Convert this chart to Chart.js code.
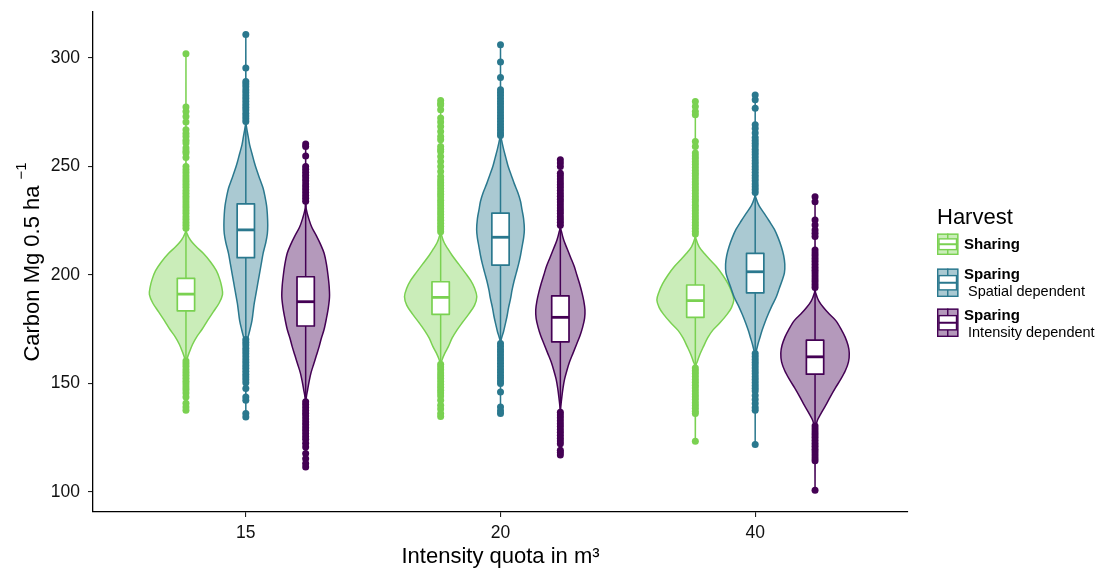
<!DOCTYPE html>
<html>
<head>
<meta charset="utf-8">
<script src="https://cdn.jsdelivr.net/npm/chart.js@4.4.1/dist/chart.umd.min.js"></script>
<style>
  html, body { margin: 0; padding: 0; background: #ffffff; }
  canvas { display: block; }
</style>
</head>
<body>
<canvas id="chart" width="1099" height="573"></canvas>
<script>
// ---- data -------------------------------------------------------------
const xTickLabels = ['15', '20', '40'];
const yTickValues = [100, 150, 200, 250, 300];
const harvestGroups = ['Sharing', 'Sparing', 'Sparing'];
const harvestDetails = ['', 'Spatial dependent', 'Intensity dependent'];
const harvestColors = ['#7AD151', '#2A788E', '#440154'];

// box statistics per quota (15, 20, 40): [lower whisker, Q1, median, Q3, upper whisker]
const sharingBoxes   = [[161, 183.5, 191.2, 198.5, 221], [159.5, 181.9, 189.7, 196.9, 219.4], [158, 180.5, 188.2, 195.4, 217.7]];
const spatialBoxes   = [[171, 208, 220.8, 232.8, 270], [169, 204.6, 217.4, 228.5, 264], [164.5, 191.8, 201.5, 210, 237]];
const intensityBoxes = [[142.5, 176.5, 187.7, 199.2, 233], [137.5, 169.2, 180.5, 190.4, 222], [131, 154.3, 162.3, 170, 193.5]];

// kernel density profiles per quota: [carbon value, relative density]
const sharingViolins = [
  [[302, 0], [222, 0.005], [219, 0.03], [216, 0.12], [213, 0.27], [210, 0.45], [206, 0.64], [202, 0.79], [198, 0.88], [194.5, 0.93], [191, 0.95], [187, 0.86], [183, 0.71], [179, 0.56], [175, 0.42], [171.5, 0.28], [168, 0.17], [164.5, 0.09], [162, 0.04], [159, 0.01], [137.7, 0]],
  [[280.4, 0], [221, 0.005], [218, 0.03], [215, 0.09], [212, 0.19], [209, 0.3], [205, 0.47], [201, 0.64], [197.5, 0.78], [194, 0.88], [190, 0.94], [186, 0.88], [182, 0.73], [178, 0.56], [174.5, 0.42], [171, 0.3], [167, 0.2], [164, 0.11], [161, 0.04], [158, 0.01], [134, 0]],
  [[280, 0], [219, 0.005], [216, 0.03], [213, 0.1], [210, 0.23], [207, 0.38], [204, 0.54], [200, 0.71], [196, 0.85], [192, 0.95], [188.5, 1.0], [185, 0.94], [182, 0.83], [178, 0.64], [174.5, 0.45], [171, 0.32], [167, 0.21], [163.5, 0.12], [160, 0.05], [157, 0.01], [123.4, 0]]
];
const spatialViolins = [
  [[310.8, 0], [272, 0.005], [268, 0.02], [264, 0.06], [260, 0.1], [256, 0.16], [252, 0.22], [248, 0.29], [244, 0.37], [240, 0.45], [236, 0.5], [232, 0.54], [228, 0.56], [223, 0.57], [219, 0.56], [215, 0.52], [210, 0.45], [205, 0.4], [200, 0.35], [196, 0.31], [192, 0.27], [187, 0.22], [183, 0.19], [179, 0.16], [175, 0.11], [171.5, 0.06], [169, 0.02], [166, 0.005], [134.6, 0]],
  [[306.1, 0], [266, 0.005], [262, 0.03], [258, 0.08], [254, 0.14], [250, 0.2], [246, 0.28], [242, 0.36], [238, 0.45], [234, 0.52], [230, 0.56], [226, 0.6], [221, 0.62], [217, 0.6], [213, 0.56], [209, 0.52], [205, 0.47], [201, 0.41], [197, 0.35], [193, 0.3], [189, 0.26], [185, 0.21], [181, 0.17], [177, 0.12], [174, 0.08], [171, 0.03], [168, 0.005], [136.2, 0]],
  [[283, 0], [238, 0.005], [235, 0.03], [232, 0.1], [228.5, 0.23], [225, 0.36], [221, 0.5], [217, 0.6], [213, 0.68], [209, 0.74], [205, 0.77], [201, 0.76], [197.5, 0.7], [194, 0.63], [190, 0.55], [186, 0.44], [182, 0.34], [178, 0.25], [174.5, 0.18], [171, 0.12], [168, 0.07], [165, 0.03], [162, 0.005], [121.9, 0]]
];
const intensityViolins = [
  [[260.4, 0], [234, 0.005], [230, 0.02], [226, 0.08], [222, 0.16], [218, 0.28], [214, 0.39], [210, 0.48], [205, 0.54], [200, 0.58], [195, 0.61], [190, 0.62], [185, 0.59], [180, 0.54], [175, 0.48], [171, 0.41], [167, 0.35], [163, 0.28], [159, 0.21], [155, 0.14], [151, 0.09], [147, 0.05], [144, 0.02], [141, 0.005], [111.5, 0]],
  [[253.1, 0], [223, 0.005], [220, 0.03], [216, 0.09], [212, 0.18], [208, 0.27], [204, 0.36], [200, 0.43], [196, 0.5], [192, 0.56], [188, 0.61], [184, 0.64], [180, 0.63], [176, 0.58], [172, 0.51], [168, 0.42], [164, 0.33], [160, 0.24], [156, 0.17], [152, 0.11], [148, 0.07], [144, 0.04], [140, 0.015], [137, 0.005], [117.1, 0]],
  [[236.1, 0], [194, 0.005], [191, 0.03], [188, 0.1], [185, 0.22], [182, 0.37], [179, 0.54], [175, 0.68], [171.5, 0.78], [167.5, 0.86], [164, 0.89], [160, 0.87], [156, 0.79], [152, 0.67], [148, 0.53], [144, 0.4], [140, 0.28], [136, 0.15], [133, 0.06], [130, 0.02], [127, 0.005], [100.8, 0]]
];

// outlying observations per quota
const sharingOutliers = [
  [302, 277.4, 275.3, 273.1, 270.5, 266.9, 265.2, 263.8, 262.1, 260.8, 258.5, 257.2, 256.2, 254.1, 250.0, 248.5, 247.1, 245.6, 244.3, 243.0, 241.7, 240.4, 239.0, 237.7, 236.3, 235.0, 233.6, 232.3, 231.0, 229.6, 228.3, 226.9, 225.6, 224.2, 222.9, 221.6,
   160.4, 159.1, 157.8, 156.4, 155.1, 153.8, 152.4, 151.1, 149.8, 148.4, 147.1, 145.6, 143.8, 140.9, 139.2, 137.7],
  [280.4, 279.0, 278.4, 276.1, 272.3, 270.5, 268.4, 266.1, 263.8, 262.3, 259.2, 257.8, 256.9, 254.6, 252.3, 250.0, 247.7, 245.4, 243.8, 242.5, 241.2, 239.9, 238.5, 237.2, 235.9, 234.5, 233.2, 231.9, 230.5, 229.2, 227.9, 226.5, 225.2, 223.9, 222.5, 221.2, 219.9,
   158.9, 157.6, 156.3, 154.9, 153.6, 152.3, 150.9, 149.6, 148.3, 146.9, 145.6, 144.2, 142.3, 140.0, 138.3, 136.2, 134.8],
  [280.0, 277.7, 275.4, 273.8, 261.5, 259.2, 256.2, 254.9, 253.6, 252.2, 250.9, 249.6, 248.2, 246.9, 245.6, 244.2, 242.9, 241.6, 240.2, 238.9, 237.6, 236.2, 234.9, 233.6, 232.2, 230.9, 229.6, 228.2, 226.9, 225.6, 224.2, 222.9, 221.6, 220.2, 218.9,
   157.2, 155.9, 154.6, 153.2, 151.9, 150.6, 149.2, 147.9, 146.6, 145.2, 143.9, 142.6, 141.2, 139.9, 138.6, 137.2, 136.2, 123.4]
];
const spatialOutliers = [
  [310.8, 295.4, 289.2, 288.0, 286.7, 285.3, 284.0, 282.6, 281.3, 280.0, 278.6, 277.3, 276.0, 274.6, 273.3, 272.0, 270.7,
   170.3, 169.0, 167.7, 166.3, 165.0, 163.7, 162.3, 161.0, 159.7, 158.3, 157.0, 155.7, 154.3, 153.0, 151.7, 150.4, 147.7, 143.8, 142.3, 136.2, 134.6],
  [306.1, 298.2, 291.0, 285.4, 284.1, 282.8, 281.4, 280.1, 278.8, 277.4, 276.1, 274.8, 273.4, 272.1, 270.8, 269.4, 268.1, 266.8, 265.4, 264.3,
   168.5, 167.2, 165.8, 164.5, 163.2, 161.8, 160.5, 159.2, 157.8, 156.5, 155.2, 153.8, 152.5, 151.2, 150.0, 146.1, 139.2, 137.5, 136.2],
  [283.0, 280.8, 276.9, 269.2, 267.5, 265.4, 263.4, 262.0, 260.7, 259.4, 258.0, 256.7, 255.4, 254.0, 252.7, 251.4, 250.0, 248.7, 247.4, 246.0, 244.7, 243.4, 242.0, 240.7, 239.4, 238.0,
   163.8, 162.5, 161.1, 159.8, 158.5, 157.1, 155.8, 154.5, 153.1, 151.8, 150.5, 149.1, 147.8, 146.5, 144.5, 142.6, 140.8, 139.0, 137.7, 121.9]
];
const intensityOutliers = [
  [260.4, 259.2, 254.9, 250.0, 248.7, 247.4, 246.0, 244.7, 243.4, 242.0, 240.7, 239.4, 238.0, 236.7, 235.4, 234.0,
   141.6, 140.3, 139.0, 137.6, 136.3, 135.0, 133.6, 132.3, 131.0, 129.6, 128.3, 127.0, 125.6, 124.3, 122.5, 120.8, 117.7, 115.3, 113.1, 111.5],
  [253.1, 251.6, 250.0, 246.9, 245.6, 244.3, 242.9, 241.6, 240.3, 238.9, 237.6, 236.3, 234.9, 233.6, 232.3, 230.9, 229.6, 228.3, 226.9, 225.6, 224.3, 222.9,
   136.8, 135.5, 134.2, 132.8, 131.5, 130.2, 128.8, 127.5, 126.2, 124.8, 123.5, 122.3, 119.3, 118.2, 117.1],
  [236.1, 233.8, 225.4, 223.1, 220.8, 219.2, 217.7, 211.5, 210.2, 208.9, 207.5, 206.2, 204.9, 203.5, 202.2, 200.9, 199.5, 198.2, 196.9, 195.5, 194.2,
   130.4, 129.1, 127.7, 126.4, 125.1, 123.7, 122.4, 121.1, 119.7, 118.4, 117.1, 115.7, 114.4, 100.8]
];

// ---- layout / style constants -----------------------------------------
const FONT = "'Liberation Sans', Arial, Helvetica, sans-serif";
const DODGE = [-0.235, 0, 0.235];     // group offsets within a quota, in x-axis units
const VIOLIN_HALF = 0.151;            // half width of a density of 1, in x-axis units
const BOX_HALF = 0.034;               // half width of the boxes, in x-axis units

const groups = [
  { boxes: sharingBoxes,   violins: sharingViolins,   outliers: sharingOutliers },
  { boxes: spatialBoxes,   violins: spatialViolins,   outliers: spatialOutliers },
  { boxes: intensityBoxes, violins: intensityViolins, outliers: intensityOutliers }
];

function rgba(hex, a) {
  const n = parseInt(hex.slice(1), 16);
  return `rgba(${(n >> 16) & 255},${(n >> 8) & 255},${n & 255},${a})`;
}

// Catmull-Rom segments (as cubic Bezier) through a list of points
function smoothSegments(pts, cx) {
  const segs = [];
  for (let i = 0; i < pts.length - 1; i++) {
    const p0 = pts[Math.max(i - 1, 0)], p1 = pts[i], p2 = pts[i + 1], p3 = pts[Math.min(i + 2, pts.length - 1)];
    const c1 = { x: p1.x + (p2.x - p0.x) / 6, y: p1.y + (p2.y - p0.y) / 6 };
    const c2 = { x: p2.x - (p3.x - p1.x) / 6, y: p2.y - (p3.y - p1.y) / 6 };
    c1.x = Math.max(c1.x, cx); c2.x = Math.max(c2.x, cx);
    c1.y = Math.min(Math.max(c1.y, p1.y), p2.y); c2.y = Math.min(Math.max(c2.y, p1.y), p2.y);
    segs.push({ c1, c2, p: p2 });
  }
  return segs;
}

const violinPlugin = {
  id: 'violins',
  beforeDatasetsDraw(chart) {
    const { ctx, scales: { x, y } } = chart;
    ctx.save();
    groups.forEach((g, gi) => {
      const color = harvestColors[gi];
      xTickLabels.forEach((_, ci) => {
        const cv = ci + 1 + DODGE[gi];
        const cxp = x.getPixelForValue(cv);
        // violin body
        const pts = g.violins[ci].map(([v, d]) => ({ x: x.getPixelForValue(cv + d * VIOLIN_HALF), y: y.getPixelForValue(v) }));
        const segs = smoothSegments(pts, cxp);
        ctx.beginPath();
        ctx.moveTo(pts[0].x, pts[0].y);
        segs.forEach(s => ctx.bezierCurveTo(s.c1.x, s.c1.y, s.c2.x, s.c2.y, s.p.x, s.p.y));
        for (let i = segs.length - 1; i >= 0; i--) {
          const s = segs[i];
          const prev = i > 0 ? segs[i - 1].p : pts[0];
          ctx.bezierCurveTo(2 * cxp - s.c2.x, s.c2.y, 2 * cxp - s.c1.x, s.c1.y, 2 * cxp - prev.x, prev.y);
        }
        ctx.closePath();
        ctx.fillStyle = rgba(color, 0.4);
        ctx.fill();
        ctx.lineWidth = 1.5;
        ctx.strokeStyle = color;
        ctx.lineJoin = 'round';
        ctx.stroke();

        // box plot
        const [lo, q1, med, q3, hi] = g.boxes[ci];
        const bl = x.getPixelForValue(cv - BOX_HALF), br = x.getPixelForValue(cv + BOX_HALF);
        ctx.lineWidth = 1.5;
        ctx.beginPath();
        ctx.moveTo(cxp, y.getPixelForValue(hi)); ctx.lineTo(cxp, y.getPixelForValue(q3));
        ctx.moveTo(cxp, y.getPixelForValue(q1)); ctx.lineTo(cxp, y.getPixelForValue(lo));
        ctx.stroke();
        const top = y.getPixelForValue(q3), bot = y.getPixelForValue(q1);
        ctx.fillStyle = '#ffffff';
        ctx.fillRect(bl, top, br - bl, bot - top);
        ctx.lineWidth = 1.7;
        ctx.strokeRect(bl, top, br - bl, bot - top);
        ctx.lineWidth = 2.8;
        ctx.beginPath();
        ctx.moveTo(bl, y.getPixelForValue(med)); ctx.lineTo(br, y.getPixelForValue(med));
        ctx.stroke();
      });
    });
    ctx.restore();
  },
  afterDraw(chart) {
    const { ctx, chartArea } = chart;
    ctx.save();
    // y-axis title with superscript exponent
    const base = 'Carbon Mg 0.5 ha', sup = '\u22121';
    ctx.font = `22px ${FONT}`;
    const wb = ctx.measureText(base).width;
    ctx.font = `15px ${FONT}`;
    const ws = ctx.measureText(sup).width;
    const gap = 6, total = wb + gap + ws;
    ctx.translate(31, (chartArea.top + chartArea.bottom) / 2);
    ctx.rotate(-Math.PI / 2);
    ctx.fillStyle = '#000';
    ctx.textBaseline = 'alphabetic';
    ctx.textAlign = 'left';
    ctx.font = `22px ${FONT}`;
    ctx.fillText(base, -total / 2, 8);
    ctx.font = `15px ${FONT}`;
    ctx.fillText(sup, -total / 2 + wb + gap, -5);
    ctx.restore();

    // legend
    ctx.save();
    const lx = 937, kw = 21.5;
    ctx.fillStyle = '#000';
    ctx.textBaseline = 'middle';
    ctx.textAlign = 'left';
    ctx.font = `22px ${FONT}`;
    ctx.fillText('Harvest', lx, 218);
    const keys = [
      { top: 233.5, h: 21.5, lines: [245] },
      { top: 268.5, h: 28.5, lines: [274.5, 292] },
      { top: 308.5, h: 28.5, lines: [315.5, 333] }
    ];
    keys.forEach((k, i) => {
      const color = harvestColors[i];
      ctx.fillStyle = rgba(color, 0.4);
      ctx.fillRect(lx, k.top, kw, k.h);
      ctx.strokeStyle = color;
      ctx.lineWidth = 1.4;
      ctx.strokeRect(lx + 0.7, k.top + 0.7, kw - 1.4, k.h - 1.4);
      const mx = lx + kw / 2, bt = k.top + k.h * 0.25, bb = k.top + k.h * 0.75;
      ctx.beginPath();
      ctx.moveTo(mx, k.top); ctx.lineTo(mx, bt);
      ctx.moveTo(mx, bb); ctx.lineTo(mx, k.top + k.h);
      ctx.stroke();
      ctx.fillStyle = '#fff';
      ctx.fillRect(lx + 2, bt, kw - 4, bb - bt);
      ctx.strokeRect(lx + 2, bt, kw - 4, bb - bt);
      ctx.lineWidth = 2;
      ctx.beginPath();
      ctx.moveTo(lx + 2, (bt + bb) / 2); ctx.lineTo(lx + kw - 2, (bt + bb) / 2);
      ctx.stroke();
      ctx.fillStyle = '#000';
      ctx.font = `bold 15px ${FONT}`;
      ctx.fillText(harvestGroups[i], 964, k.lines[0]);
      if (harvestDetails[i]) {
        ctx.font = `14.5px ${FONT}`;
        ctx.fillText(' ' + harvestDetails[i], 964, k.lines[1]);
      }
    });
    ctx.restore();
  }
};

const datasets = groups.map((g, gi) => ({
  label: harvestGroups[gi] + (harvestDetails[gi] ? ' ' + harvestDetails[gi] : ''),
  data: g.outliers.flatMap((vals, ci) => vals.map(v => ({ x: ci + 1 + DODGE[gi], y: v }))),
  backgroundColor: harvestColors[gi],
  borderWidth: 0,
  pointRadius: 3.5,
  pointHoverRadius: 3.5
}));

const tickFont = { family: FONT, size: 17.5 };

new Chart(document.getElementById('chart'), {
  type: 'scatter',
  data: { datasets },
  options: {
    responsive: false,
    animation: false,
    events: [],
    layout: { padding: { top: 12, right: 191, bottom: 0, left: 0 } },
    plugins: { legend: { display: false }, tooltip: { enabled: false } },
    scales: {
      x: {
        type: 'linear',
        min: 0.4,
        max: 3.6,
        afterBuildTicks: s => { s.ticks = xTickLabels.map((_, i) => ({ value: i + 1 })); },
        afterFit: s => { s.height = 61; s.paddingLeft = 0; s.paddingRight = 0; },
        ticks: { callback: v => xTickLabels[Math.round(v) - 1], color: '#111', font: tickFont, padding: 6, maxRotation: 0, autoSkip: false },
        grid: { display: true, drawOnChartArea: false, drawTicks: true, tickLength: 5, color: '#222', lineWidth: 1.1 },
        border: { display: true, color: '#000', width: 1.3 },
        title: { display: true, text: 'Intensity quota in m³', color: '#000', font: { family: FONT, size: 22 }, padding: { top: 0, bottom: 3 } }
      },
      y: {
        type: 'linear',
        min: 90.8,
        max: 321.2,
        afterBuildTicks: s => { s.ticks = yTickValues.map(v => ({ value: v })); },
        afterFit: s => { s.width = 93; s.paddingTop = 0; s.paddingBottom = 0; },
        ticks: { color: '#111', font: tickFont, padding: 8 },
        grid: { display: true, drawOnChartArea: false, drawTicks: true, tickLength: 5, color: '#222', lineWidth: 1.1 },
        border: { display: true, color: '#000', width: 1.3 },
        title: { display: false }
      }
    }
  },
  plugins: [violinPlugin]
});
</script>
</body>
</html>
